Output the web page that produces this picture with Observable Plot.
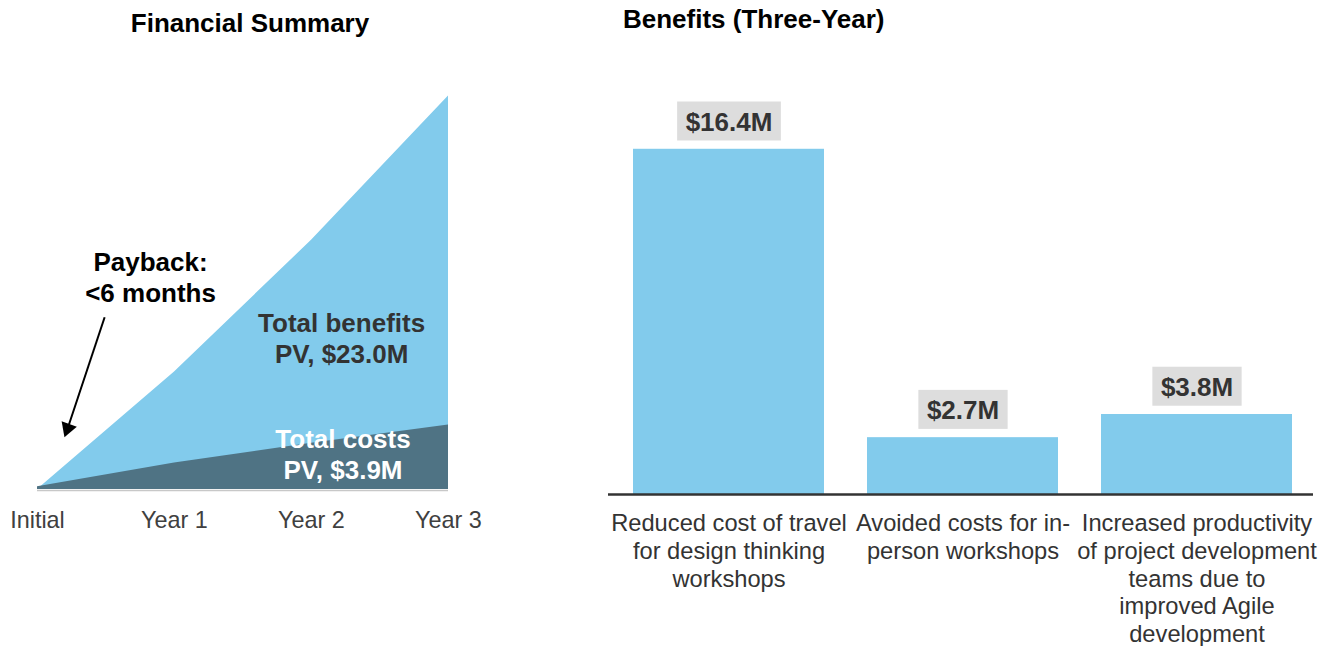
<!DOCTYPE html>
<html><head><meta charset="utf-8">
<script src="https://cdn.jsdelivr.net/npm/d3@7"></script>
<script src="https://cdn.jsdelivr.net/npm/@observablehq/plot@0.6"></script>
<style>
body{margin:0;background:#fff;font-family:"Liberation Sans",Arial,sans-serif;}
#wrap{position:relative;width:1336px;height:646px;overflow:hidden;background:#fff;}
.title{position:absolute;font-weight:bold;font-size:26px;line-height:30px;color:#000;white-space:nowrap;}
#left{position:absolute;left:0;top:50px;}
#right{position:absolute;left:600px;top:50px;}
</style></head><body>
<div id="wrap">
<div class="title" style="left:0;width:500px;text-align:center;top:8px;">Financial Summary</div>
<div class="title" style="left:623px;top:4px;">Benefits (Three-Year)</div>
<div id="left"></div><div id="right"></div>
</div>
<script>
// ---- Financial summary (cumulative, $M) ----
const periods = ["Initial", "Year 1", "Year 2", "Year 3"];
const periodIndex = [0, 1, 2, 3];
const cumBenefits = [0, 8.4, 17.8, 28.1];
const cumCosts = [0.2, 1.9, 3.3, 4.6];

// annotations (data coordinates)
const noteTexts = ["Payback:\n<6 months", "Total benefits\nPV, $23.0M", "Total costs\nPV, $3.9M"];
const noteX = [0.825, 2.22, 2.23];
const noteY = [17.2, 12.85, 4.56];
const noteColors = ["#000000", "#333333", "#ffffff"];
const arrowFrom = [0.49, 12.3];
const arrowTo = [0.22, 4.36];
const arrowAngle = 200;

// ---- Benefits (three-year, $M) ----
const benefitCategories = [
  "Reduced cost of travel for design thinking workshops",
  "Avoided costs for in-person workshops",
  "Increased productivity of project development teams due to improved Agile development"
];
const benefitLabels = [
  "Reduced cost of travel\nfor design thinking\nworkshops",
  "Avoided costs for in-\nperson workshops",
  "Increased productivity\nof project development\nteams due to\nimproved Agile\ndevelopment"
];
const benefitValues = [16.4, 2.7, 3.8];

const FONT = '"Liberation Sans", Arial, sans-serif';

const summary = periodIndex.map((t, i) => ({t, benefits: cumBenefits[i], costs: cumCosts[i]}));
const notes = noteTexts.map((text, i) => ({text, x: noteX[i], y: noteY[i], fill: noteColors[i]}));
const arrow = [{x1: arrowFrom[0], y1: arrowFrom[1], x2: arrowTo[0], y2: arrowTo[1], angle: arrowAngle}];

const left = Plot.plot({
  width: 500, height: 520,
  marginLeft: 37, marginRight: 52, marginTop: 0, marginBottom: 81,
  style: {fontFamily: FONT, background: "transparent", overflow: "visible", color: "#404040"},
  x: {type: "linear", domain: [0, 3], range: [37, 448], label: null},
  y: {domain: [0, 30], range: [439, 19], axis: null},
  color: {type: "identity"},
  marks: [
    Plot.areaY(summary, {x: "t", y: "benefits", fill: "#82CBEC"}),
    Plot.areaY(summary, {x: "t", y: "costs", fill: "#4F7384"}),
    Plot.ruleY([0], {stroke: "#c8c8c8", strokeWidth: 1.5, dy: 1}),
    Plot.axisX({ticks: periodIndex, tickFormat: i => periods[i], tickSize: 0, tickPadding: 22,
      fontSize: 23.4, color: "#404040", label: null}),
    Plot.link(arrow, {x1: "x1", y1: "y1", x2: "x2", y2: "y2", stroke: "#000", strokeWidth: 2}),
    Plot.dot(arrow, {x: "x2", y: "y2", symbol: "triangle", r: 6, fill: "#000", stroke: null, rotate: "angle"}),
    Plot.text(notes, {x: "x", y: "y", text: "text", fill: "fill", lineAnchor: "top",
      fontSize: 26, fontWeight: "bold", lineHeight: 1.19})
  ]
});
document.getElementById("left").append(left);

const benefits = benefitCategories.map((c, i) => ({category: c, value: benefitValues[i]}));
const right = Plot.plot({
  width: 736, height: 596,
  marginLeft: 8, marginRight: 23, marginTop: 0, marginBottom: 152,
  style: {fontFamily: FONT, background: "transparent", overflow: "visible", color: "#333"},
  x: {type: "band", domain: benefitCategories, range: [10.25, 713.75], paddingInner: 0.1855, paddingOuter: 0.0928, label: null},
  y: {domain: [0, 20], range: [444, 23], axis: null},
  marks: [
    Plot.barY(benefits, {x: "category", y: "value", fill: "#82CBEC"}),
    Plot.ruleY([0], {stroke: "#333", strokeWidth: 2.3}),
    Plot.text(benefits, {x: "category", y: "value", text: d => `$${d.value.toFixed(1)}M`,
      dy: -26.6, lineAnchor: "middle", fontSize: 26, fontWeight: "bold", fill: "#333"}),
    Plot.axisX({tickSize: 0, tickPadding: 17, fontSize: 23.7, lineHeight: 1.17,
      tickFormat: c => benefitLabels[benefitCategories.indexOf(c)], color: "#333", label: null})
  ]
});
document.getElementById("right").append(right);

// grey label boxes behind the value labels
const svgns = "http://www.w3.org/2000/svg";
right.querySelectorAll('g[aria-label="text"] text').forEach(t => {
  const bb = t.getBBox();
  const padX = 8.5, h = 39;
  const r = document.createElementNS(svgns, "rect");
  r.setAttribute("x", bb.x - padX);
  r.setAttribute("y", bb.y + bb.height / 2 - h / 2 - 1);
  r.setAttribute("width", bb.width + 2 * padX);
  r.setAttribute("height", h);
  r.setAttribute("fill", "#DDDDDD");
  if (t.getAttribute("transform")) r.setAttribute("transform", t.getAttribute("transform"));
  t.parentNode.insertBefore(r, t);
});
</script>
</body></html>
